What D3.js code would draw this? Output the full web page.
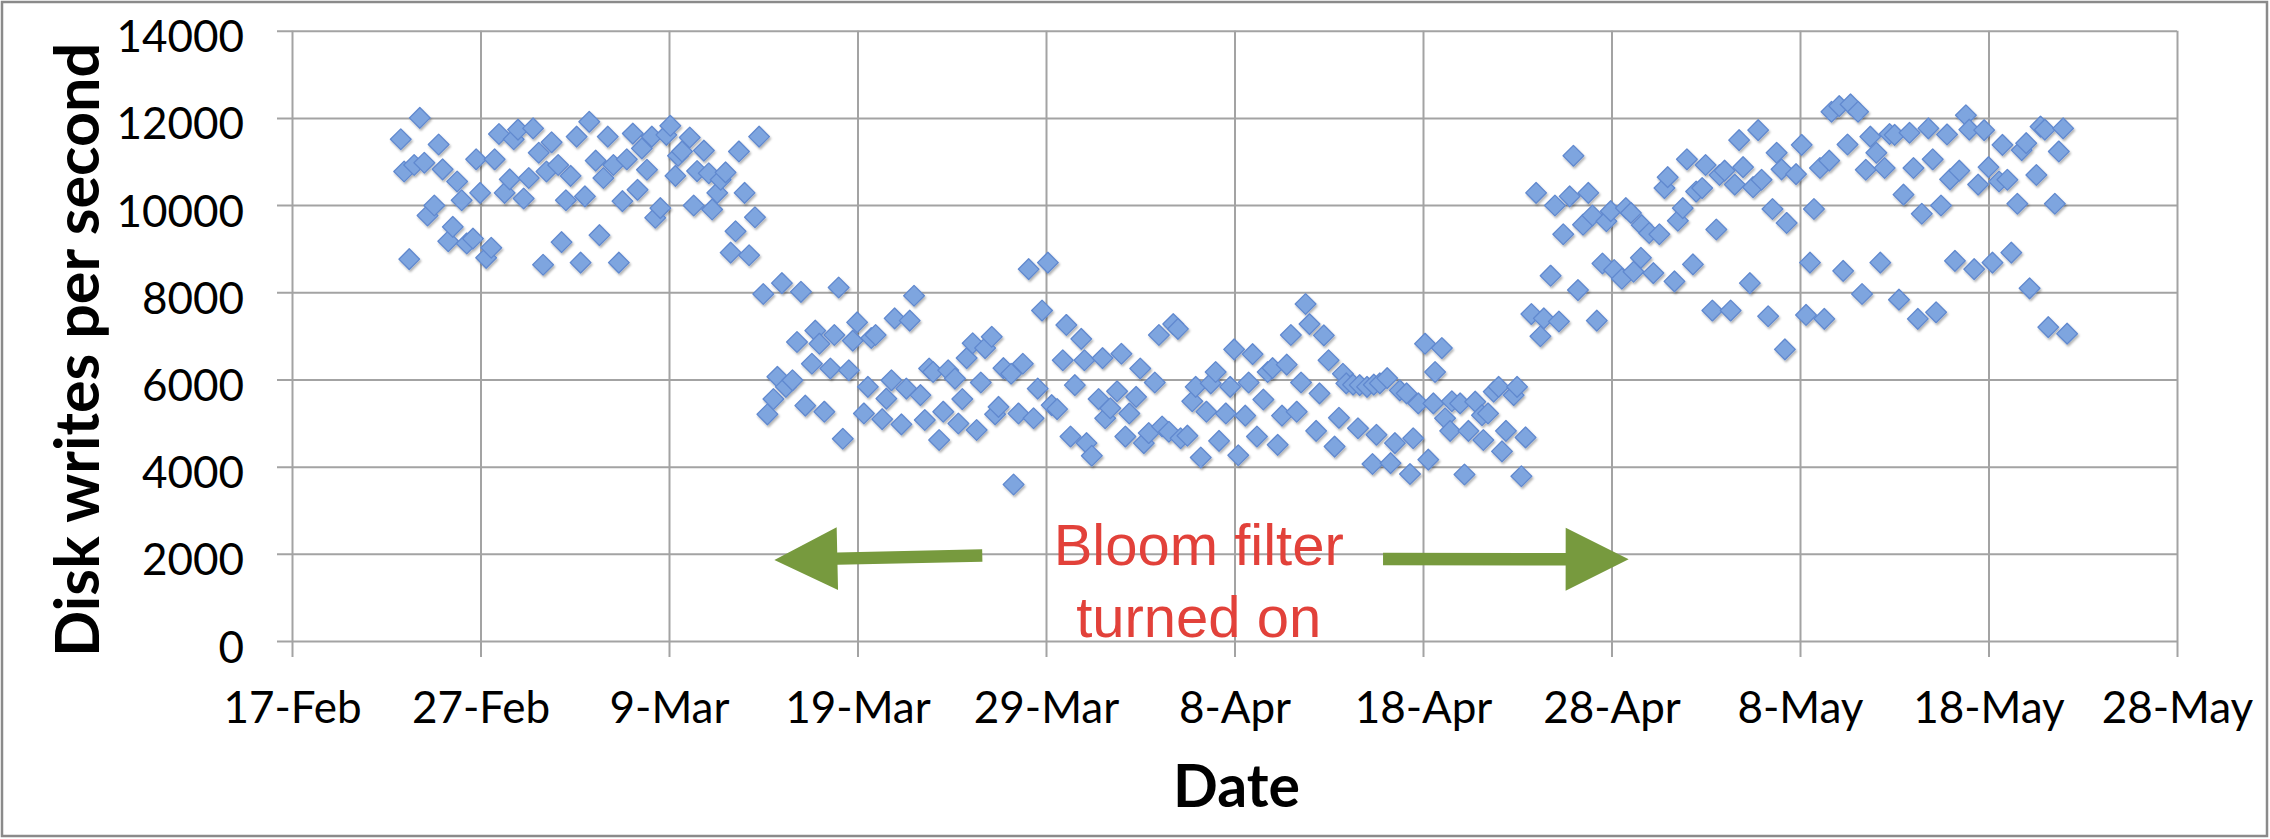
<!DOCTYPE html>
<html>
<head>
<meta charset="utf-8">
<script src="https://cdn.jsdelivr.net/npm/d3@7"></script>
<style>
  html, body { margin: 0; padding: 0; background: #fff; }
  #chart { width: 2270px; height: 839px; }
</style>
</head>
<body>
<div id="chart"></div>
<script>
// days after 17-Feb, and disk writes per second
const beforeDays = [5.77,5.95,6.22,6.48,6.78,7.02,7.19,7.55,7.78,7.99,8.29,8.53,8.76,9.0,9.27,9.6,9.77,9.98,10.3,10.57,
  10.75,10.98,11.28,11.55,11.76,11.99,12.29,12.56,12.79,13.09,13.32,13.5,13.77,14.12,14.3,14.53,14.78,15.1,15.31,15.54,
  15.77,16.11,16.31,16.52,16.75,17.05,17.34,17.53,17.76,18.08,18.33,18.56,18.83,19.09,19.27,19.54,19.86,20.07,20.34,20.48,
  20.69,21.1,21.31,21.49,21.85,22.11,22.29,22.56,22.74,23.0,23.27,23.53,23.71,24.01,24.25,24.56,24.78];
const beforeWrites = [11510,10770,8760,10920,12000,10970,9760,9990,11390,10820,9170,9500,10540,10110,9120,9230,11050,10280,8790,9020,
  11050,11630,10280,10590,11510,11730,10150,10620,11760,11200,8630,10770,11440,10920,9150,10110,10670,11570,8680,10200,
  11910,11020,9310,10620,11570,10920,8680,10090,11050,11640,10350,11300,10810,11570,9710,9930,11610,11820,10670,11130,
  11230,11550,9990,10780,11250,10730,9900,10280,10580,10750,8910,9400,11230,10280,8850,9720,11570];

const filterDays = [25.0,25.22,25.54,25.75,25.99,26.2,26.55,26.79,27.0,27.23,27.58,27.76,27.98,28.24,28.56,28.77,29.0,29.22,29.54,29.75,
  29.98,30.34,30.55,30.73,30.96,31.31,31.53,31.8,31.97,32.33,32.59,32.77,33.0,33.34,33.57,33.8,34.01,34.33,34.55,34.81,
  35.17,35.35,35.56,35.79,36.11,36.32,36.54,36.77,37.12,37.3,37.48,37.74,38.15,38.28,38.54,38.77,39.08,39.34,39.56,39.79,
  40.1,40.3,40.59,40.89,41.08,41.3,41.53,41.87,42.04,42.15,42.43,42.79,43.0,43.14,43.41,43.77,44.0,44.21,44.42,44.78,
  45.0,45.19,45.45,45.77,45.99,46.16,46.52,46.75,47.0,47.14,47.5,47.76,47.94,48.21,48.51,48.74,49.0,49.18,49.54,49.77,
  49.98,50.2,50.57,50.75,50.96,51.19,51.53,51.76,52.02,52.29,52.52,52.77,52.99,53.3,53.53,53.77,53.98,54.33,54.51,54.74,
  54.99,55.31,55.54,55.75,55.93,56.29,56.55,56.64,57.03,57.32,57.39,57.53,57.71,58.1,58.28,58.51,58.77,59.13,59.31,59.48,
  59.75,60.11,60.28,60.55,60.64,61.0,61.17,61.44,61.53,61.97,62.2,62.41,62.77,63.13,63.2,63.45,63.75,64.01,64.19,64.4,
  64.81,64.99,65.22,65.44];
const filterWrites = [7960,5200,5550,6060,8210,5830,5980,6860,8010,5400,6360,7120,6820,5260,6250,7020,8110,4640,6210,6890,
  7310,5220,5830,6950,7020,5090,5560,5980,7400,4970,5790,7350,7920,5640,5070,6250,6170,4610,5260,6210,
  6020,4990,5550,6490,6830,4840,5930,6720,6980,5200,5370,6260,6130,3590,5220,6360,8530,5110,5790,7580,
  8680,5410,5320,6440,7250,4690,5870,6930,6440,4540,4250,5550,6490,5110,5340,5730,6590,4690,5220,5600,
  6250,4540,4770,5930,7020,4920,4800,7270,7160,4650,4710,5500,5830,4210,5260,5910,6170,4590,5220,5830,
  6690,4260,5170,5930,6580,4690,5540,6170,6260,4500,5170,6340,7020,5260,5930,7730,7270,4820,5680,7010,
  6440,4460,5120,6130,5910,5880,4880,5870,5830,4060,5880,4730,5910,6030,4080,4540,5750,5680,3830,4650,
  5450,6820,4160,5450,6170,6720,5110,4820,5500,5450,3820,4820,5490,5180,4610,5220,5720,5830,4350,4820,
  5640,5830,3780,4670];

const afterDays = [65.75,66.0,66.23,66.41,66.77,67.0,67.21,67.44,67.78,67.98,68.22,68.49,68.77,68.99,69.22,69.52,69.73,69.96,70.14,70.55,
  70.76,71.03,71.17,71.56,71.6,72.0,72.22,72.54,72.81,72.98,73.34,73.52,73.78,74.0,74.32,74.49,74.81,74.99,75.35,75.56,
  75.73,76.0,76.32,76.54,76.77,76.98,77.34,77.51,77.78,77.96,78.31,78.54,78.76,79.02,79.2,79.29,79.79,80.09,80.32,80.53,
  80.74,81.06,81.29,81.55,81.67,82.08,82.29,82.52,82.68,83.08,83.29,83.49,83.73,84.05,84.26,84.49,84.75,85.02,85.25,85.49,
  85.81,86.02,86.25,86.46,86.81,87.04,87.22,87.48,87.8,87.96,88.22,88.45,88.8,88.98,89.24,89.45,89.77,90.0,90.21,90.56,
  90.74,91.0,91.21,91.53,91.76,92.0,92.18,92.54,92.76,92.99,93.17,93.52,93.73,93.96,94.17];
const afterWrites = [7500,10280,6990,7400,8380,9990,7330,9330,10200,11130,8050,9550,10280,9760,7350,8660,9630,9860,8510,8310,
  9930,9820,8470,8790,9540,9360,8440,9330,10390,10640,8250,9640,9930,11050,8640,10310,10390,10920,7580,9440,
  10690,10790,7580,10470,11490,10870,8210,10410,11720,10580,7450,9910,11200,10820,6690,9590,10710,11380,7480,8680,
  9910,10850,7390,11020,12140,12270,8490,11390,12310,12140,7960,10810,11570,11200,8680,10850,11630,11610,7830,10240,
  11660,10850,7390,9800,11760,11050,7540,9990,11620,10590,8720,10790,12060,11730,8530,10470,11720,10870,8680,10540,
  11380,10580,8910,10030,11260,11420,8090,10690,11800,11730,7200,10030,11230,11760,7050];

const yTicks = [0, 2000, 4000, 6000, 8000, 10000, 12000, 14000];
const xTickDays = [0, 10, 20, 30, 40, 50, 60, 70, 80, 90, 100];
const noteLines = ["Bloom filter", "turned on"];

const startMs = Date.UTC(2011, 1, 17);
const toDate = d => new Date(startMs + d * 864e5);

const W = 2270, H = 839;
const plotLeft = 292, plotRight = 2177, plotTop = 30.7, plotBottom = 641;

const svg = d3.select("#chart").append("svg")
    .attr("width", W)
    .attr("height", H);

svg.append("rect").attr("width", W).attr("height", H).attr("fill", "#fff");
svg.append("rect")
    .attr("x", 2).attr("y", 2)
    .attr("width", W - 5).attr("height", H - 5)
    .attr("fill", "none")
    .attr("stroke", "#8a8a8a")
    .attr("stroke-width", 2.5);

const defs = svg.append("defs");
defs.append("filter")
    .attr("id", "shadow")
    .attr("x", "-50%").attr("y", "-50%").attr("width", "200%").attr("height", "200%")
    .append("feDropShadow")
    .attr("dx", 1.2).attr("dy", 2)
    .attr("stdDeviation", 1.3)
    .attr("flood-color", "#000")
    .attr("flood-opacity", 0.3);

const x = d3.scaleUtc()
    .domain([toDate(0), toDate(100)])
    .range([plotLeft, plotRight]);

const y = d3.scaleLinear()
    .domain([0, 14000])
    .range([plotBottom, plotTop]);

const gridColor = "#a3a3a3";

// horizontal grid + y labels
const yAxis = svg.append("g")
    .attr("transform", `translate(${plotLeft - 15},0)`)
    .call(d3.axisLeft(y)
        .tickValues(yTicks)
        .tickSize(-(plotRight - plotLeft + 15))
        .tickFormat(d3.format("d")));
yAxis.select(".domain").remove();
yAxis.selectAll("line").attr("stroke", gridColor).attr("stroke-width", 2);
yAxis.selectAll("text")
    .attr("x", -33)
    .attr("dy", null)
    .attr("y", 21)
    .attr("fill", "#000")
    .style("font-family", "Lato, 'Open Sans', sans-serif")
    .style("font-size", "44px");

// vertical grid + date labels
const xAxis = svg.append("g")
    .attr("transform", `translate(0,${plotBottom + 16})`)
    .call(d3.axisBottom(x)
        .tickValues(xTickDays.map(toDate))
        .tickSize(-(plotBottom + 16 - plotTop))
        .tickFormat(d3.utcFormat("%-d-%b")));
xAxis.select(".domain").remove();
xAxis.selectAll("line").attr("stroke", gridColor).attr("stroke-width", 2);
xAxis.selectAll("text")
    .attr("dy", null)
    .attr("y", 66)
    .attr("fill", "#000")
    .style("font-family", "Lato, 'Open Sans', sans-serif")
    .style("font-size", "44px");

// points
const points = [
    ...beforeDays.map((d, i) => ({ day: d, value: beforeWrites[i] })),
    ...filterDays.map((d, i) => ({ day: d, value: filterWrites[i] })),
    ...afterDays.map((d, i) => ({ day: d, value: afterWrites[i] }))
];

const diamond = d3.symbol().type(d3.symbolSquare).size(215);

svg.append("g")
    .attr("filter", "url(#shadow)")
    .selectAll("path")
    .data(points)
    .enter()
    .append("path")
    .attr("d", diamond)
    .attr("transform", d => `translate(${x(toDate(d.day))},${y(d.value)}) rotate(45)`)
    .attr("fill", "#7ea5df")
    .attr("stroke", "#6189cf")
    .attr("stroke-width", 1.3)
    .attr("stroke-linejoin", "round");

// arrows (tail -> tip, in days / writes)
const arrows = [
    { from: [36.62, 1962], to: [25.59, 1858] },
    { from: [57.88, 1881], to: [70.91, 1874] }
];

function arrowPath(x0, y0, x1, y1) {
    const len = Math.hypot(x1 - x0, y1 - y0);
    const ux = (x1 - x0) / len, uy = (y1 - y0) / len;
    const nx = -uy, ny = ux;
    const headLen = 63, headW = 31.5, shaftW = 6.2;
    const bx = x1 - ux * headLen, by = y1 - uy * headLen;
    const pts = [
        [x0 + nx * shaftW, y0 + ny * shaftW],
        [bx + nx * shaftW, by + ny * shaftW],
        [bx + nx * headW, by + ny * headW],
        [x1, y1],
        [bx - nx * headW, by - ny * headW],
        [bx - nx * shaftW, by - ny * shaftW],
        [x0 - nx * shaftW, y0 - ny * shaftW]
    ];
    return "M" + pts.map(p => p.join(",")).join("L") + "Z";
}

svg.append("g")
    .selectAll("path")
    .data(arrows)
    .enter()
    .append("path")
    .attr("d", a => arrowPath(
        x(toDate(a.from[0])), y(a.from[1]),
        x(toDate(a.to[0])), y(a.to[1])))
    .attr("fill", "#779a3e");

// annotation text
svg.append("text")
    .attr("x", x(toDate(48.1)))
    .attr("y", y(1743))
    .attr("text-anchor", "middle")
    .attr("fill", "#e2413a")
    .style("font-family", "'Liberation Sans', Arial, sans-serif")
    .style("font-size", "58px")
    .selectAll("tspan")
    .data(noteLines)
    .enter()
    .append("tspan")
    .attr("x", x(toDate(48.1)))
    .attr("dy", (d, i) => i === 0 ? 0 : 72)
    .text(d => d);

// axis titles
svg.append("text")
    .attr("transform", "translate(99,350) rotate(-90)")
    .attr("text-anchor", "middle")
    .attr("fill", "#000")
    .style("font-family", "Lato, 'Open Sans', sans-serif")
    .style("font-weight", "bold")
    .style("font-size", "61px")
    .text("Disk writes per second");

svg.append("text")
    .attr("x", (plotLeft + plotRight) / 2 + 2)
    .attr("y", 807)
    .attr("text-anchor", "middle")
    .attr("fill", "#000")
    .style("font-family", "Lato, 'Open Sans', sans-serif")
    .style("font-weight", "bold")
    .style("font-size", "59px")
    .text("Date");
</script>
</body>
</html>
